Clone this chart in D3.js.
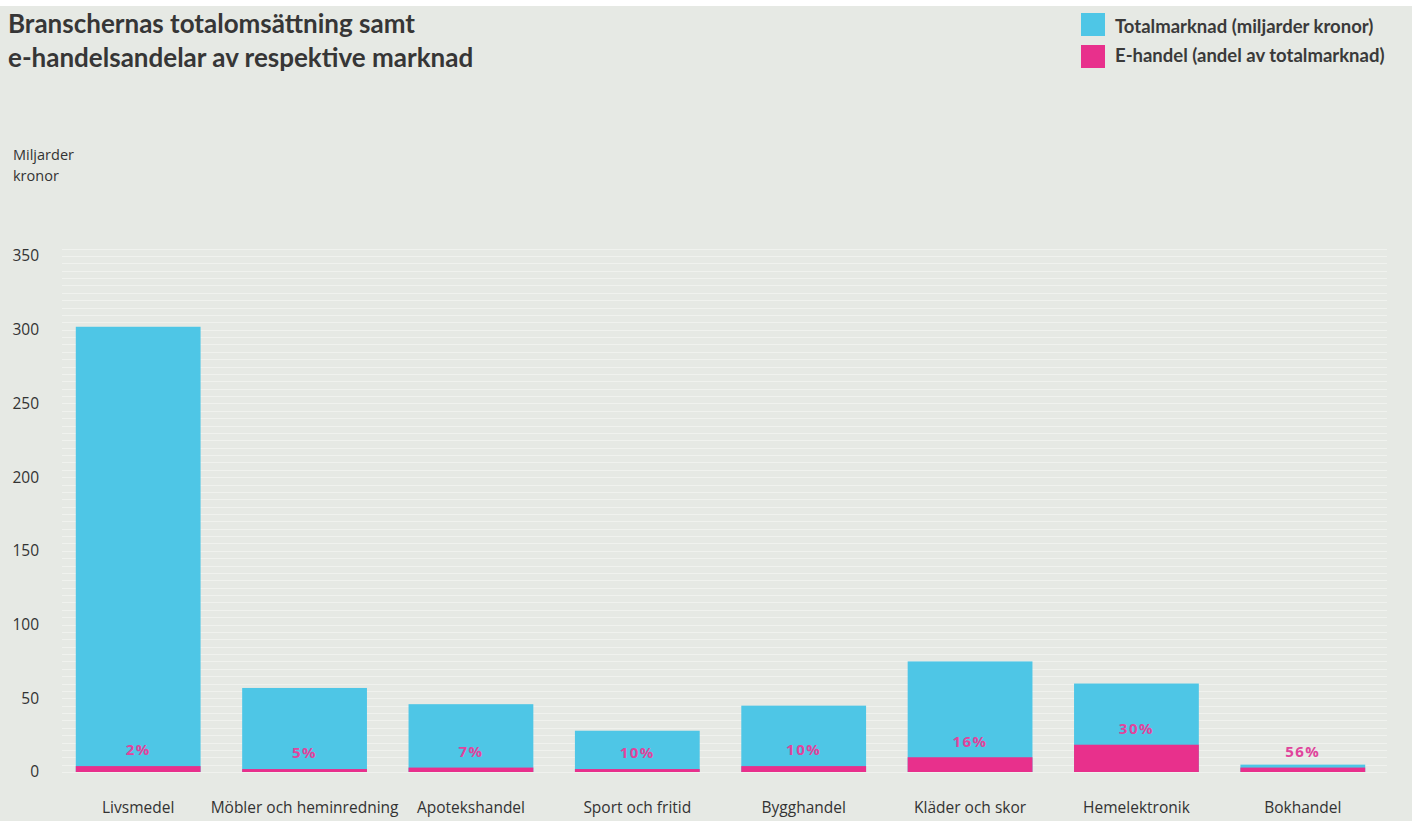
<!DOCTYPE html>
<html lang="sv">
<head>
<meta charset="utf-8">
<title>Branschernas totalomsättning</title>
<script src="https://d3js.org/d3.v7.min.js"></script>
<style>
  body { margin: 0; padding: 0; background: #e6e9e4; overflow: hidden; }
  svg { display: block; }
  .title { font-family: Lato, sans-serif; font-weight: 700; font-size: 26px; fill: #363636; }
  .legend text { font-family: Lato, sans-serif; font-weight: 700; font-size: 18.5px; fill: #3a3a3a; }
  .axis-label, .tick-label, .cat-label { font-family: "Open Sans", sans-serif; fill: #333; }
  .share { font-family: "Open Sans", sans-serif; font-weight: 700; font-size: 15px; fill: #e0449c; letter-spacing: 1.5px; }
</style>
</head>
<body>
<script>
const categories = ["Livsmedel", "Möbler och heminredning", "Apotekshandel", "Sport och fritid",
                    "Bygghandel", "Kläder och skor", "Hemelektronik", "Bokhandel"];
const totalMarket = [302, 57, 46, 28, 45, 75, 60, 5];
const eCommerce = [4, 2, 3, 2, 4, 10, 18.5, 3];
const shares = [2, 5, 7, 10, 10, 16, 30, 56];
const yTicks = [0, 50, 100, 150, 200, 250, 300, 350];

const w = 1412, h = 821;
const cyan = "#4ec6e6", magenta = "#e8308c";

const svg = d3.select("body").append("svg")
    .attr("width", w)
    .attr("height", h);

svg.append("rect").attr("width", w).attr("height", h).attr("fill", "#e6e9e4");
svg.append("rect").attr("width", w).attr("height", 6).attr("fill", "#ffffff");

const x = d3.scaleBand()
    .domain(categories)
    .range([55, 1386])
    .paddingInner(0.25)
    .paddingOuter(0.125);

const y = d3.scaleLinear()
    .domain([0, 350])
    .range([772, 256]);

// faint horizontal stripes
svg.append("g")
    .selectAll("line")
    .data(d3.range(0, 356, 5))
    .enter().append("line")
    .attr("x1", 62)
    .attr("x2", 1387)
    .attr("y1", d => Math.round(y(d)) + 0.5)
    .attr("y2", d => Math.round(y(d)) + 0.5)
    .attr("stroke", "#f0f2ee")
    .attr("stroke-width", 1);

// title
const title = svg.append("text").attr("class", "title").attr("x", 8);
title.append("tspan").attr("x", 8).attr("y", 33).text("Branschernas totalomsättning samt");
title.append("tspan").attr("x", 8).attr("y", 67).text("e-handelsandelar av respektive marknad");

// legend
const legendItems = [
    { label: "Totalmarknad (miljarder kronor)", color: cyan },
    { label: "E-handel (andel av totalmarknad)", color: magenta }
];
const legend = svg.append("g").attr("class", "legend");
legend.selectAll("rect")
    .data(legendItems)
    .enter().append("rect")
    .attr("x", 1081)
    .attr("y", (d, i) => 13 + i * 32)
    .attr("width", 24)
    .attr("height", 23)
    .attr("fill", d => d.color);
legend.selectAll("text")
    .data(legendItems)
    .enter().append("text")
    .attr("x", 1115)
    .attr("y", (d, i) => 33 + i * 29)
    .text(d => d.label);

// y axis title
svg.append("text").attr("class", "axis-label").attr("x", 13).attr("y", 160)
    .attr("font-size", 14.5).text("Miljarder");
svg.append("text").attr("class", "axis-label").attr("x", 13).attr("y", 181)
    .attr("font-size", 14.5).text("kronor");

// y tick labels
svg.append("g")
    .selectAll("text")
    .data(yTicks)
    .enter().append("text")
    .attr("class", "tick-label")
    .attr("x", 39)
    .attr("y", d => y(d))
    .attr("dy", "0.35em")
    .attr("text-anchor", "end")
    .attr("font-size", 15.5)
    .text(d => d);

// total market bars
svg.append("g")
    .selectAll("rect")
    .data(categories)
    .enter().append("rect")
    .attr("x", d => x(d))
    .attr("width", x.bandwidth())
    .attr("y", (d, i) => y(totalMarket[i]))
    .attr("height", (d, i) => y(0) - y(totalMarket[i]))
    .attr("fill", cyan);

// e-commerce bars
svg.append("g")
    .selectAll("rect")
    .data(categories)
    .enter().append("rect")
    .attr("x", d => x(d))
    .attr("width", x.bandwidth())
    .attr("y", (d, i) => y(eCommerce[i]))
    .attr("height", (d, i) => y(0) - y(eCommerce[i]))
    .attr("fill", magenta);

// share labels
svg.append("g")
    .selectAll("text")
    .data(categories)
    .enter().append("text")
    .attr("class", "share")
    .attr("x", d => x(d) + x.bandwidth() / 2)
    .attr("y", (d, i) => y(eCommerce[i]) - 16)
    .attr("dy", "0.35em")
    .attr("text-anchor", "middle")
    .text((d, i) => shares[i] + "%");

// category labels
svg.append("g")
    .selectAll("text")
    .data(categories)
    .enter().append("text")
    .attr("class", "cat-label")
    .attr("x", d => x(d) + x.bandwidth() / 2)
    .attr("y", 813)
    .attr("text-anchor", "middle")
    .attr("font-size", 15.5)
    .text(d => d);
</script>
</body>
</html>
